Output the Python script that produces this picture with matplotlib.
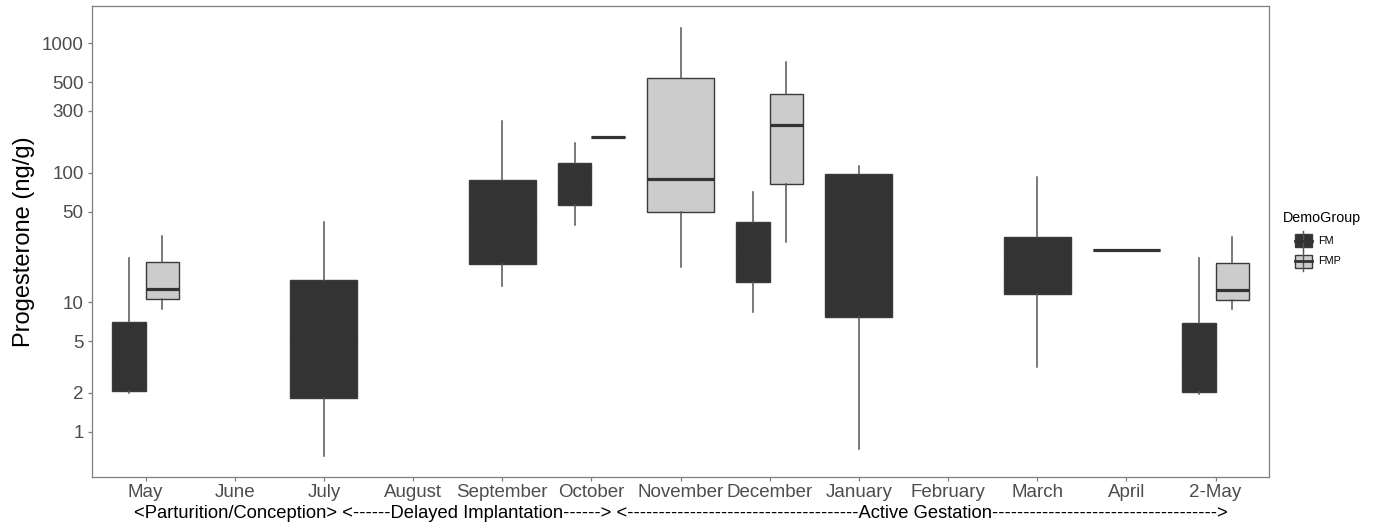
import matplotlib
matplotlib.use("Agg")
import matplotlib.pyplot as plt
from matplotlib.patches import Rectangle
from matplotlib.lines import Line2D

plt.rcParams["font.family"] = ["Liberation Sans", "DejaVu Sans"]

months = ["May", "June", "July", "August", "September", "October", "November",
          "December", "January", "February", "March", "April", "2-May"]

# FM group: lower whisker, Q1, median, Q3, upper whisker (None = no samples)
fm_low = [1.98, None, 0.65, None, 13.4, 39.6, None, 8.4, 0.73, None, 3.18, 25.4, 1.96]
fm_q1 = [2.07, None, 1.83, None, 19.8, 56.5, None, 14.3, 7.74, None, 11.5, 25.4, 2.03]
fm_med = [3.5, None, 5.0, None, 45.0, 80.0, None, 25.0, 40.0, None, 20.0, 25.4, 3.5]
fm_q3 = [7.0, None, 14.8, None, 88.0, 120.0, None, 42.0, 97.5, None, 31.8, 25.4, 6.96]
fm_high = [22.0, None, 42.0, None, 252.0, 171.0, None, 71.0, 112.0, None, 92.5, 25.4, 21.9]

# FMP group
fmp_low = [8.87, None, None, None, None, 188.0, 18.6, 29.2, None, None, None, None, 8.85]
fmp_q1 = [10.5, None, None, None, None, 188.0, 49.6, 82.5, None, None, None, None, 10.4]
fmp_med = [12.7, None, None, None, None, 188.0, 89.3, 233.0, None, None, None, None, 12.5]
fmp_q3 = [20.4, None, None, None, None, 188.0, 538.0, 409.0, None, None, None, None, 20.2]
fmp_high = [32.5, None, None, None, None, 188.0, 1324.0, 723.0, None, None, None, None, 32.0]

groups = ["FM", "FMP"]
fills = {"FM": "#333333", "FMP": "#cccccc"}
yticks = [1, 2, 5, 10, 50, 100, 300, 500, 1000]

W, H = 1384, 524
fig = plt.figure(figsize=(W / 100, H / 100), dpi=100)
ax = fig.add_axes([92 / W, 1 - 476.7 / H, (1269 - 92) / W, (476.7 - 6) / H])


def collect(low, q1, med, q3, high):
    out = {}
    for i in range(len(months)):
        if low[i] is not None:
            out[i] = dict(whislo=low[i], q1=q1[i], med=med[i], q3=q3[i], whishi=high[i])
    return out


data = {"FM": collect(fm_low, fm_q1, fm_med, fm_q3, fm_high),
        "FMP": collect(fmp_low, fmp_q1, fmp_med, fmp_q3, fmp_high)}

# dodge like ggplot: share the 0.75 slot when both groups are present
for g, sign in zip(groups, [-1, 1]):
    other = data["FMP" if g == "FM" else "FM"]
    stats, pos, wid = [], [], []
    for i, s in data[g].items():
        stats.append(s)
        if i in other:
            pos.append(i + 1 + sign * 0.1875)
            wid.append(0.375)
        else:
            pos.append(i + 1)
            wid.append(0.75)
    ax.bxp(stats, positions=pos, widths=wid, patch_artist=True,
           showfliers=False, showcaps=False,
           boxprops=dict(facecolor=fills[g], edgecolor="#3a3a3a", linewidth=1.0),
           medianprops=dict(color="#333333", linewidth=2.3, solid_capstyle="butt"),
           whiskerprops=dict(color="#555555", linewidth=1.1))

ax.set_yscale("log")
ax.set_ylim(0.449, 1941)
ax.set_xlim(0.4, 13.6)
ax.set_yticks(yticks)
ax.set_yticklabels([str(t) for t in yticks])
ax.minorticks_off()
ax.set_xticks(range(1, len(months) + 1))
ax.set_xticklabels(months)

for sp in ax.spines.values():
    sp.set_color("#7f7f7f")
    sp.set_linewidth(0.9)
ax.tick_params(axis="both", colors="#7f7f7f", labelcolor="#4d4d4d",
               length=3, width=0.9, labelsize=13.5)
ax.tick_params(axis="x", pad=2.5)
ax.tick_params(axis="y", pad=3)

ax.set_ylabel("Progesterone (ng/g)", fontsize=17, color="black", labelpad=5)
xtitle = ("<Parturition/Conception> <------Delayed Implantation------> <"
          + "-" * 37 + "Active Gestation" + "-" * 36 + ">")
ax.set_xlabel(xtitle, fontsize=13.2, color="black", labelpad=2.5)

# legend drawn by hand in the right margin
fx = lambda px: px / W
fy = lambda py: 1 - py / H
fig.text(fx(1283), fy(218), "DemoGroup", fontsize=10.3, va="center", ha="left")
for g, cy in zip(groups, [240.7, 261.0]):
    cx, bw, bh = 1303, 17, 13
    fig.add_artist(Line2D([fx(cx), fx(cx)], [fy(cy - 10), fy(cy + 10)],
                          transform=fig.transFigure, color="#555555", lw=1.0))
    fig.add_artist(Rectangle((fx(cx - bw / 2), fy(cy + bh / 2)), bw / W, bh / H,
                             transform=fig.transFigure, facecolor=fills[g],
                             edgecolor="#3a3a3a", lw=1.0))
    fig.add_artist(Line2D([fx(cx - bw / 2), fx(cx + bw / 2)], [fy(cy), fy(cy)],
                          transform=fig.transFigure, color="#333333", lw=2.0))
    fig.text(fx(1318), fy(cy), g, fontsize=7.8, va="center", ha="left")

fig.savefig("out.png", dpi=100)
